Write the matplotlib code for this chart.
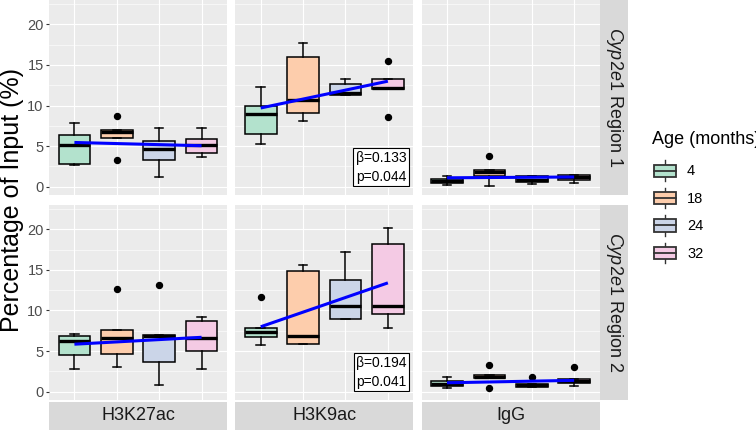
import matplotlib
matplotlib.use("Agg")
import matplotlib.pyplot as plt
from matplotlib.patches import Patch, Rectangle
from matplotlib.lines import Line2D
from matplotlib.legend_handler import HandlerBase

plt.rcParams["font.family"] = ["Liberation Sans", "DejaVu Sans"]
plt.rcParams["mathtext.fontset"] = "custom"
plt.rcParams["mathtext.rm"] = "Liberation Sans"
plt.rcParams["mathtext.it"] = "Liberation Sans:italic"

# ---- data ----
ages = ["4", "18", "24", "32"]
marks = ["H3K27ac", "H3K9ac", "IgG"]
regions = ["Region 1", "Region 2"]
age_colors = ["#B3E2CD", "#FDCDAC", "#CBD5E8", "#F4CAE4"]

# per age: [whisker low, q1, median, q3, whisker high]
r1_h3k27ac = [[2.7, 2.8, 5.1, 6.4, 7.8], [6.0, 6.0, 6.8, 7.0, 7.0],
              [1.2, 3.3, 4.7, 5.6, 7.2], [3.7, 4.1, 5.15, 5.85, 7.25]]
r1_h3k27ac_out = [[], [8.7, 3.3], [], []]
r1_h3k9ac = [[5.3, 6.5, 9.0, 9.9, 12.3], [8.1, 9.1, 10.7, 16.0, 17.65],
             [11.3, 11.3, 11.5, 12.7, 13.3], [12.0, 12.0, 12.2, 13.3, 13.3]]
r1_h3k9ac_out = [[], [], [], [15.5, 8.6]]
r1_igg = [[0.2, 0.4, 0.65, 1.0, 1.35], [0.1, 1.35, 1.8, 2.0, 2.0],
          [0.35, 0.55, 0.8, 1.3, 1.3], [0.4, 0.8, 1.2, 1.5, 1.5]]
r1_igg_out = [[], [3.8], [], []]

r2_h3k27ac = [[2.75, 4.5, 6.3, 6.8, 7.05], [3.0, 4.7, 6.6, 7.65, 7.65],
              [0.8, 3.7, 6.9, 7.0, 7.0], [2.8, 5.05, 6.65, 8.75, 9.25]]
r2_h3k27ac_out = [[], [12.6], [13.2], []]
r2_h3k9ac = [[5.8, 6.7, 7.35, 7.9, 7.9], [5.9, 5.9, 6.8, 14.9, 15.6],
             [8.9, 8.9, 10.6, 13.8, 17.25], [7.8, 9.6, 10.6, 18.2, 20.1]]
r2_h3k9ac_out = [[11.7], [], [], []]
r2_igg = [[0.5, 0.75, 1.0, 1.3, 1.8], [1.65, 1.65, 1.85, 2.05, 2.05],
          [0.55, 0.55, 0.8, 1.0, 1.0], [0.75, 1.05, 1.3, 1.6, 1.6]]
r2_igg_out = [[], [3.3, 0.4], [1.85], [3.0]]

# fitted trend line, value at age 4 and at age 32
r1_trend = [[5.45, 5.05], [9.7, 13.0], [1.1, 1.2]]
r2_trend = [[5.85, 6.7], [8.0, 13.4], [1.1, 1.4]]

# regression stats printed in the H3K9ac panels
stat_beta = ["0.133", "0.194"]
stat_p = ["0.044", "0.041"]

boxes = [[r1_h3k27ac, r1_h3k9ac, r1_igg], [r2_h3k27ac, r2_h3k9ac, r2_igg]]
outliers = [[r1_h3k27ac_out, r1_h3k9ac_out, r1_igg_out],
            [r2_h3k27ac_out, r2_h3k9ac_out, r2_igg_out]]
trends = [r1_trend, r2_trend]

# ---- layout, in pixels ----
W, H = 756, 430
fig = plt.figure(figsize=(W / 100, H / 100), dpi=100)


def px_axes(x0, y0, x1, y1):
    return fig.add_axes([x0 / W, 1 - y1 / H, (x1 - x0) / W, (y1 - y0) / H])


col_x = [(49, 227), (235.3, 413.3), (421.6, 599.6)]
row_y = [(0, 194.6), (204.9, 399.6)]
positions = [1, 2, 3, 4]


class BoxKey(HandlerBase):
    def create_artists(self, legend, orig_handle, xdescent, ydescent,
                       width, height, fontsize, trans):
        fc = orig_handle.get_facecolor()
        cx = -xdescent + width / 2
        cy = -ydescent + height / 2
        bw, bh = width * 0.85, height * 0.6
        rect = Rectangle((cx - bw / 2, cy - bh / 2), bw, bh, facecolor=fc,
                         edgecolor="#333333", lw=1.3, transform=trans)
        med = Line2D([cx - bw / 2, cx + bw / 2], [cy, cy], color="#333333",
                     lw=1.3, transform=trans)
        up = Line2D([cx, cx], [cy + bh / 2, -ydescent + height], color="#333333",
                    lw=1.0, transform=trans)
        dn = Line2D([cx, cx], [-ydescent, cy - bh / 2], color="#333333",
                    lw=1.0, transform=trans)
        return [up, dn, rect, med]


for r in range(2):
    for c in range(3):
        ax = px_axes(col_x[c][0], row_y[r][0], col_x[c][1], row_y[r][1])
        ax.set_facecolor("#EBEBEB")
        for s in ax.spines.values():
            s.set_visible(False)

        stats = []
        for b, fl in zip(boxes[r][c], outliers[r][c]):
            stats.append(dict(whislo=b[0], q1=b[1], med=b[2], q3=b[3],
                              whishi=b[4], fliers=fl))
        bp = ax.bxp(stats, positions=positions, widths=0.75, capwidths=0.2,
                    patch_artist=True, showfliers=True, manage_ticks=False,
                    boxprops=dict(edgecolor="black", lw=1.1),
                    medianprops=dict(color="black", lw=2.4, solid_capstyle="butt"),
                    whiskerprops=dict(color="black", lw=1.1),
                    capprops=dict(color="black", lw=1.1),
                    flierprops=dict(marker="o", markerfacecolor="black",
                                    markeredgecolor="black", markersize=4.3))
        for patch, col in zip(bp["boxes"], age_colors):
            patch.set_facecolor(col)

        ax.plot([positions[0], positions[-1]], trends[r][c], color="blue",
                lw=2.2, solid_capstyle="butt", zorder=5)

        ax.set_xlim(0.4, 4.6)
        ax.set_ylim(-0.97, 23.0)
        ax.set_xticks(positions)
        ax.set_xticklabels([])
        ax.set_yticks([0, 5, 10, 15, 20])
        ax.set_yticks([2.5, 7.5, 12.5, 17.5, 22.5], minor=True)
        ax.tick_params(axis="x", length=0)
        ax.tick_params(axis="y", which="minor", length=0)
        if c == 0:
            ax.tick_params(axis="y", which="major", length=2.2, width=0.8,
                           color="#333333", labelsize=10.5, labelcolor="#4D4D4D", pad=1.6)
        else:
            ax.tick_params(axis="y", which="major", length=0, labelleft=False)
        ax.grid(which="major", color="white", lw=0.8)
        ax.grid(which="minor", axis="y", color="white", lw=0.4)
        ax.set_axisbelow(True)

        if c == 1:
            ax.text(0.962, 0.055, "\u03b2=" + stat_beta[r] + "\np=" + stat_p[r],
                    transform=ax.transAxes, ha="right", va="bottom", fontsize=10,
                    linespacing=1.45, zorder=6,
                    bbox=dict(boxstyle="square,pad=0.18", fc="white", ec="black", lw=0.8))

    # right strip
    sax = px_axes(600, row_y[r][0], 628, row_y[r][1])
    sax.set_facecolor("#D9D9D9")
    sax.set_xticks([])
    sax.set_yticks([])
    for s in sax.spines.values():
        s.set_visible(False)
    sax.text(0.5, 0.5, r"$\mathit{Cyp2e1}$ " + regions[r], rotation=270,
             ha="center", va="center", fontsize=13, color="#1A1A1A",
             transform=sax.transAxes)

for c in range(3):
    sax = px_axes(col_x[c][0], 401.5, col_x[c][1], 430)
    sax.set_facecolor("#D9D9D9")
    sax.set_xticks([])
    sax.set_yticks([])
    for s in sax.spines.values():
        s.set_visible(False)
    sax.text(0.5, 0.5, marks[c], ha="center", va="center", fontsize=13,
             color="#1A1A1A", transform=sax.transAxes)

fig.text(12 / W, 1 - 200 / H, "Percentage of Input (%)", rotation=90,
         ha="center", va="center", fontsize=18, color="black")

# legend: title as its own text, keys below it
fig.text(652 / W, 1 - 140 / H, "Age (months)", ha="left", va="center",
         fontsize=13, color="black")
handles = [Patch(facecolor=col) for col in age_colors]
fig.legend(handles, ages, loc="upper left",
           bbox_to_anchor=(652 / W, 1 - 160.5 / H), frameon=False, fontsize=10.5,
           handler_map={Patch: BoxKey()},
           handlelength=1.8, handleheight=1.75, labelspacing=0.5,
           handletextpad=0.6, borderpad=0, borderaxespad=0)

fig.savefig("out.png", dpi=100)
